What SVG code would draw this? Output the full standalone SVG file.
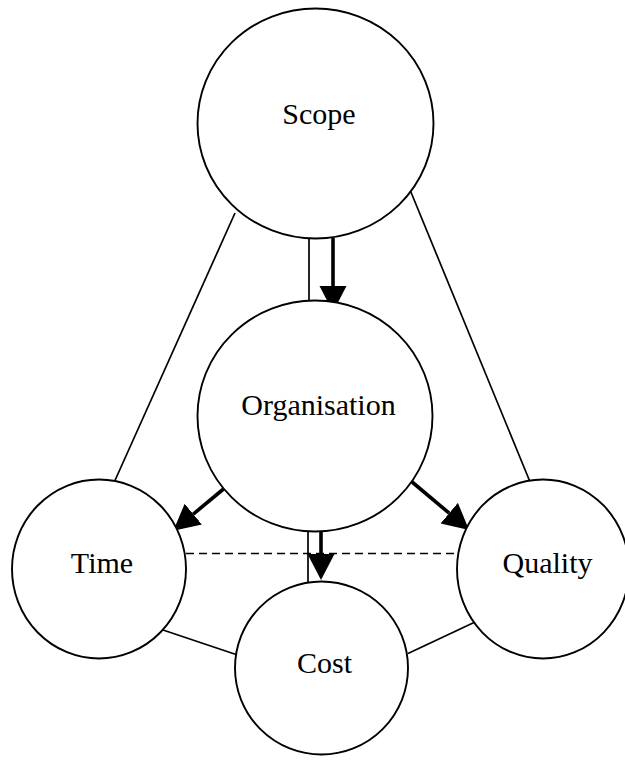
<svg xmlns="http://www.w3.org/2000/svg" width="625" height="760" viewBox="0 0 625 760">
  <style>
    .node { fill: #ffffff; stroke: #000000; stroke-width: 1.9; }
    .label { font-family: "Liberation Serif", "Times New Roman", serif; font-size: 30px; fill: #000000; text-anchor: middle; }
    .link { stroke: #000000; stroke-width: 1.7; fill: none; }
    .dash { stroke: #000000; stroke-width: 1.7; fill: none; stroke-dasharray: 8 5; }
    .flow { stroke: #000000; stroke-width: 3.6; fill: none; marker-end: url(#head); }
  </style>
  <defs>
    <marker id="head" markerUnits="userSpaceOnUse" markerWidth="28" markerHeight="28" refX="0" refY="13.5" orient="auto" viewBox="0 0 28 28">
      <path d="M0,0 L26,13.5 L0,27 Z" fill="#000000"/>
    </marker>
  </defs>

  <rect width="625" height="760" fill="#ffffff"/>

  <!-- connectors -->
  <g id="connectors">
    <line class="link" x1="235" y1="213" x2="112.5" y2="486"/>
    <line class="link" x1="410.5" y1="191" x2="530.5" y2="483"/>
    <line class="link" x1="163" y1="630" x2="236" y2="654.5"/>
    <line class="link" x1="408" y1="653.5" x2="474" y2="622.5"/>
    <line class="link" x1="309" y1="238" x2="309" y2="301"/>
    <line class="link" x1="308" y1="532" x2="308" y2="583"/>
    <line class="dash" x1="186" y1="553.5" x2="458" y2="553.5"/>
    <line class="flow" x1="333" y1="238" x2="333" y2="286"/>
    <line class="flow" x1="321" y1="532" x2="321" y2="554"/>
    <line class="flow" x1="223.5" y1="489" x2="193.3" y2="514.1"/>
    <line class="flow" x1="411.5" y1="481.5" x2="449.2" y2="513.2"/>
  </g>

  <!-- nodes -->
  <g id="scope">
    <ellipse class="node" cx="315.5" cy="123.5" rx="118" ry="115"/>
    <text class="label" x="319" y="124">Scope</text>
  </g>
  <g id="organisation">
    <ellipse class="node" cx="315" cy="416" rx="117.5" ry="115.5"/>
    <text class="label" x="318.5" y="415">Organisation</text>
  </g>
  <g id="time">
    <ellipse class="node" cx="99" cy="569" rx="87" ry="89.5"/>
    <text class="label" x="102" y="573">Time</text>
  </g>
  <g id="quality">
    <ellipse class="node" cx="543" cy="569" rx="86" ry="89.5"/>
    <text class="label" x="547.5" y="573">Quality</text>
  </g>
  <g id="cost">
    <ellipse class="node" cx="321.5" cy="668" rx="86.5" ry="86.5"/>
    <text class="label" x="324.5" y="673">Cost</text>
  </g>
</svg>
